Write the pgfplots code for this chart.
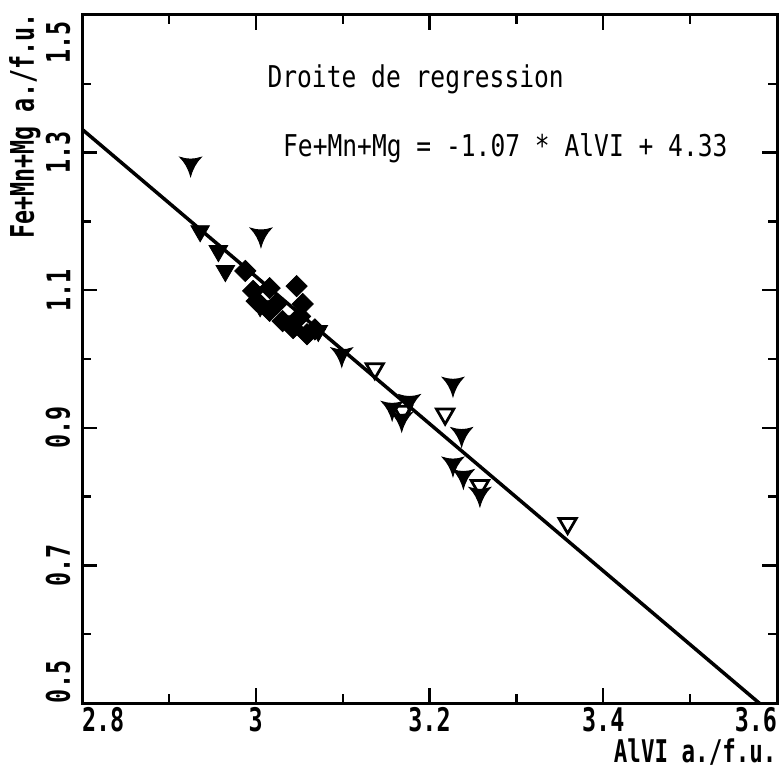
\documentclass[border=0pt]{standalone}
\usepackage{fontspec}
\usepackage{pgfplots}
\pgfplotsset{compat=1.18}
\usetikzlibrary{calc}
\setmainfont{DejaVu Sans Mono}
\newfontfamily\tickfont[FakeStretch=0.72]{DejaVu Sans Mono}
\newfontfamily\notefont[FakeStretch=0.82]{DejaVu Sans Mono}

% concave down-pointing triangle ("Y" mark)
\pgfdeclareplotmark{ytri}{%
  \pgfpathmoveto{\pgfqpoint{0pt}{-1.2\pgfplotmarksize}}%
  \pgfpathquadraticcurveto{\pgfqpoint{0.3\pgfplotmarksize}{-0.1\pgfplotmarksize}}{\pgfqpoint{\pgfplotmarksize}{0.6\pgfplotmarksize}}%
  \pgfpathquadraticcurveto{\pgfqpoint{0pt}{0.25\pgfplotmarksize}}{\pgfqpoint{-\pgfplotmarksize}{0.6\pgfplotmarksize}}%
  \pgfpathquadraticcurveto{\pgfqpoint{-0.3\pgfplotmarksize}{-0.1\pgfplotmarksize}}{\pgfqpoint{0pt}{-1.2\pgfplotmarksize}}%
  \pgfpathclose
  \pgfusepathqfillstroke}

\begin{document}
\begin{tikzpicture}
\begin{axis}[
  name=ax,
  scale only axis,
  width=278pt, height=275.2pt,
  xmin=2.8, xmax=3.6, ymin=0.5, ymax=1.5,
  axis line style={line width=1.2pt},
  xtick={2.8,3,3.2,3.4,3.6},
  minor xtick={2.9,3.1,3.3,3.5},
  xticklabels={\rlap{2.8},3,3.2,3.4,\llap{3.6}},
  ytick={0.5,0.7,0.9,1.1,1.3,1.5},
  minor ytick={0.6,0.8,1.0,1.2,1.4},
  yticklabels={\rlap{0.5},0.7,0.9,1.1,1.3,\llap{1.5\kern2.5pt}},
  xtick pos=both, ytick pos=both, ticklabel pos=left,
  tick align=inside,
  major tick length=6pt, minor tick length=3.5pt,
  every tick/.style={black, line width=0.9pt},
  tick label style={font=\tickfont\bfseries\fontsize{13}{13}\selectfont},
  xticklabel style={anchor=north, inner xsep=0pt, inner ysep=1.5pt},
  yticklabel style={rotate=90, anchor=south, inner xsep=0pt, inner ysep=4.5pt},
  xlabel={AlVI a./f.u.},
  xlabel style={font=\tickfont\bfseries\fontsize{12.5}{12.5}\selectfont,
    at={(axis description cs:1,0)}, anchor=north east, inner sep=0pt, yshift=-14pt},
  ylabel={Fe+Mn+Mg a./f.u.},
  ylabel style={font=\tickfont\bfseries\fontsize{13}{13}\selectfont,
    at={(axis description cs:-0.082,1.003)}, anchor=east, inner sep=0pt, rotate=0},
  clip=true,
]
% regression line
\addplot[black, line width=1.4pt, no markers] coordinates {(2.8,1.334) (3.6,0.478)};

% filled diamonds
\addplot[only marks, mark=square*, mark size=3pt,
  mark options={rotate=45, fill=black, draw=black, line width=0.3pt}] coordinates {
  (2.988,1.128) (2.997,1.099) (3.016,1.103) (3.001,1.084) (3.024,1.080)
  (3.016,1.070) (3.031,1.055) (3.054,1.080) (3.051,1.062) (3.043,1.045)
  (3.059,1.036) (3.068,1.043) (3.047,1.106)
};

% filled down triangles
\addplot[only marks, mark=triangle*, mark size=4.3pt,
  mark options={rotate=180, fill=black, draw=black, line width=0.3pt}] coordinates {
  (2.936,1.186) (2.957,1.157) (2.965,1.128) (3.005,1.077) (3.039,1.055) (3.072,1.041)
};

% concave (Y-shaped) triangles
\addplot[only marks, mark=ytri, mark size=4.2pt,
  mark options={fill=black, draw=black, line width=0.4pt}] coordinates {
  (2.925,1.284) (3.006,1.181) (3.099,1.007) (3.177,0.939) (3.157,0.929)
  (3.168,0.913) (3.227,0.964) (3.237,0.891) (3.227,0.848) (3.239,0.830)
  (3.258,0.804)
};

% open down triangles
\addplot[only marks, mark=triangle, mark size=4pt,
  mark options={rotate=180, fill=white, draw=black, line width=1.1pt}] coordinates {
  (3.137,0.986) (3.169,0.924) (3.218,0.920) (3.258,0.816) (3.359,0.761)
};

\node[anchor=west, inner sep=0pt, font=\notefont\fontsize{12}{12}\selectfont]
  at (axis cs:3.013,1.407) {Droite de regression};
\node[anchor=west, inner sep=0pt, font=\notefont\fontsize{12}{12}\selectfont]
  at (axis cs:3.031,1.306) {Fe+Mn+Mg = -1.07 * AlVI + 4.33};
\end{axis}
\pgfresetboundingbox
\path[use as bounding box] ($(ax.south west)+(-32.8pt,-27pt)$) rectangle ($(ax.north east)+(1.6pt,6pt)$);
\end{tikzpicture}
\end{document}
